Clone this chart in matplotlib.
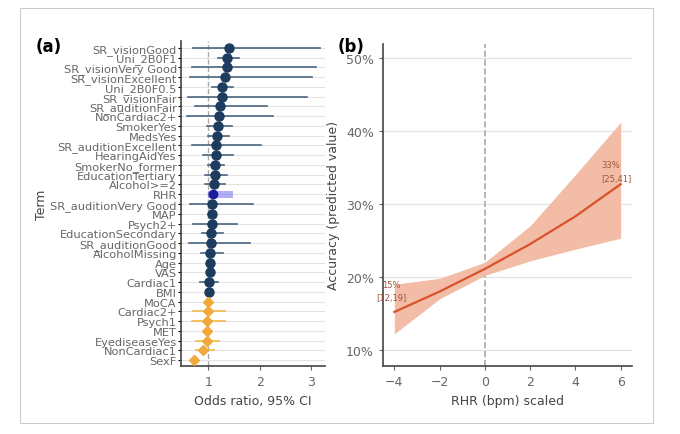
import matplotlib
matplotlib.use('Agg')
import numpy as np
import matplotlib.pyplot as plt
from matplotlib.patches import Rectangle

# Painel (a): odds ratios
termos = ['SR_visionGood', 'Uni_2B0F1', 'SR_visionVery Good', 'SR_visionExcellent', 'Uni_2B0F0.5',
          'SR_visionFair', 'SR_auditionFair', 'NonCardiac2+', 'SmokerYes', 'MedsYes',
          'SR_auditionExcellent', 'HearingAidYes', 'SmokerNo_former', 'EducationTertiary', 'Alcohol>=2',
          'RHR', 'SR_auditionVery Good', 'MAP', 'Psych2+', 'EducationSecondary', 'SR_auditionGood',
          'AlcoholMissing', 'Age', 'VAS', 'Cardiac1', 'BMI', 'MoCA', 'Cardiac2+', 'Psych1', 'MET',
          'EyediseaseYes', 'NonCardiac1', 'SexF']
odds = [1.41, 1.37, 1.37, 1.33, 1.26, 1.26, 1.22, 1.20, 1.18, 1.17, 1.16, 1.15, 1.14, 1.13, 1.11,
        1.09, 1.08, 1.07, 1.07, 1.05, 1.05, 1.04, 1.03, 1.03, 1.01, 1.01, 1.00, 0.99, 0.98, 0.97,
        0.97, 0.90, 0.72]
ci_lo = [0.70, 1.18, 0.68, 0.65, 1.08, 0.61, 0.74, 0.59, 0.97, 0.99, 0.69, 0.89, 0.99, 0.93, 0.93,
         0.99, 0.65, 0.99, 0.70, 0.87, 0.62, 0.85, 0.98, 0.99, 0.84, 0.97, 0.93, 0.70, 0.68, 0.92,
         0.77, 0.77, 0.66]
ci_hi = [3.18, 1.59, 3.09, 3.02, 1.49, 2.92, 2.14, 2.25, 1.47, 1.41, 2.03, 1.48, 1.30, 1.36, 1.32,
         1.49, 1.87, 1.16, 1.55, 1.28, 1.81, 1.28, 1.09, 1.07, 1.18, 1.05, 1.07, 1.33, 1.33, 1.03,
         1.20, 1.11, 0.78]

# Painel (b): predição
rhr = [-4, -2, 0, 2, 4, 6]
acc = [15.2, 18.0, 21.1, 24.5, 28.3, 32.7]
acc_lo = [12.2, 17.0, 20.2, 22.2, 23.8, 25.3]
acc_hi = [19.0, 19.8, 22.0, 27.0, 34.0, 41.2]

cinza = '#666666'
fig = plt.figure(figsize=(6.8, 4.35), dpi=100)
fig.patches.append(Rectangle((0.03, 0.025), 0.93, 0.955, transform=fig.transFigure,
                             fill=False, edgecolor='#cccccc', lw=0.8))

ax1 = fig.add_axes([181/680, 1-367/435, (325-181)/680, (367-42)/435])
n = len(termos)
y = np.arange(n)[::-1]
ax1.set_ylim(-0.6, n - 0.3)
ax1.set_xlim(0.47, 3.27)
for yi in y:
    ax1.axhline(yi, color='#e3e3e3', lw=0.8, zorder=0)
ax1.axvline(1, color='#aaaaaa', ls='--', lw=1, zorder=1)
for i, t in enumerate(termos):
    laranja = i >= 26
    if t == 'RHR':
        ax1.add_patch(Rectangle((ci_lo[i], y[i]-0.35), ci_hi[i]-ci_lo[i], 0.7,
                                color='#7b7bf0', alpha=0.6, lw=0, zorder=2))
        ax1.plot(odds[i], y[i], 'o', color='#1c1c9c', ms=6, zorder=3)
    elif laranja:
        ax1.plot([ci_lo[i], ci_hi[i]], [y[i], y[i]], color='#f4b84a', lw=1.2, zorder=2)
        ax1.plot(odds[i], y[i], 'D', color='#f2a93b', ms=5, zorder=3)
    else:
        ax1.plot([ci_lo[i], ci_hi[i]], [y[i], y[i]], color='#4a6580', lw=1.2, zorder=2)
        ax1.plot(odds[i], y[i], 'o', color='#1d3c5e', ms=6.5, zorder=3)
ax1.set_yticks(y)
ax1.set_yticklabels(termos, fontsize=8.2, color=cinza)
ax1.tick_params(axis='y', length=2, pad=1)
ax1.set_xticks([1, 2, 3])
ax1.tick_params(axis='x', labelsize=9, colors=cinza, length=3)
ax1.set_xlabel('Odds ratio, 95% CI', fontsize=9, color='#444444')
ax1.set_ylabel('Term', fontsize=9, color='#444444', labelpad=2)
for s in ['top', 'right']:
    ax1.spines[s].set_visible(False)
for s in ['left', 'bottom']:
    ax1.spines[s].set_color('#444444')
    ax1.spines[s].set_linewidth(1.2)
fig.text(36/680, 1-47/435, '(a)', fontsize=12, fontweight='bold', va='center')

ax2 = fig.add_axes([383/680, 1-367/435, (632-383)/680, (367-45)/435])
ax2.set_xlim(-4.5, 6.5)
ax2.set_ylim(7.8, 51.9)
for v in [10, 20, 30, 40, 50]:
    ax2.axhline(v, color='#e3e3e3', lw=0.9, zorder=0)
ax2.axvline(0, color='#aaaaaa', ls='--', lw=1.2, zorder=1)
ax2.fill_between(rhr, acc_lo, acc_hi, color='#f2bca6', lw=0, zorder=2)
ax2.plot(rhr, acc, color='#d9532a', lw=1.6, zorder=3)
ax2.text(-4.15, 18.6, '15%', fontsize=6, color='#a0553a', ha='center')
ax2.text(-4.15, 16.8, '[12,19]', fontsize=6, color='#a0553a', ha='center')
ax2.text(5.55, 35.0, '33%', fontsize=6, color='#a0553a', ha='center')
ax2.text(5.8, 33.2, '[25,41]', fontsize=6, color='#a0553a', ha='center')
ax2.set_xticks([-4, -2, 0, 2, 4, 6])
ax2.set_yticks([10, 20, 30, 40, 50])
ax2.set_yticklabels(['10%', '20%', '30%', '40%', '50%'])
ax2.tick_params(labelsize=9, colors=cinza, length=3)
ax2.set_xlabel('RHR (bpm) scaled', fontsize=9, color='#444444')
ax2.set_ylabel('Accuracy (predicted value)', fontsize=9, color='#444444')
for s in ['top', 'right']:
    ax2.spines[s].set_visible(False)
for s in ['left', 'bottom']:
    ax2.spines[s].set_color('#444444')
    ax2.spines[s].set_linewidth(1.2)
fig.text(338/680, 1-47/435, '(b)', fontsize=12, fontweight='bold', va='center')

plt.savefig('out.png', dpi=100)
